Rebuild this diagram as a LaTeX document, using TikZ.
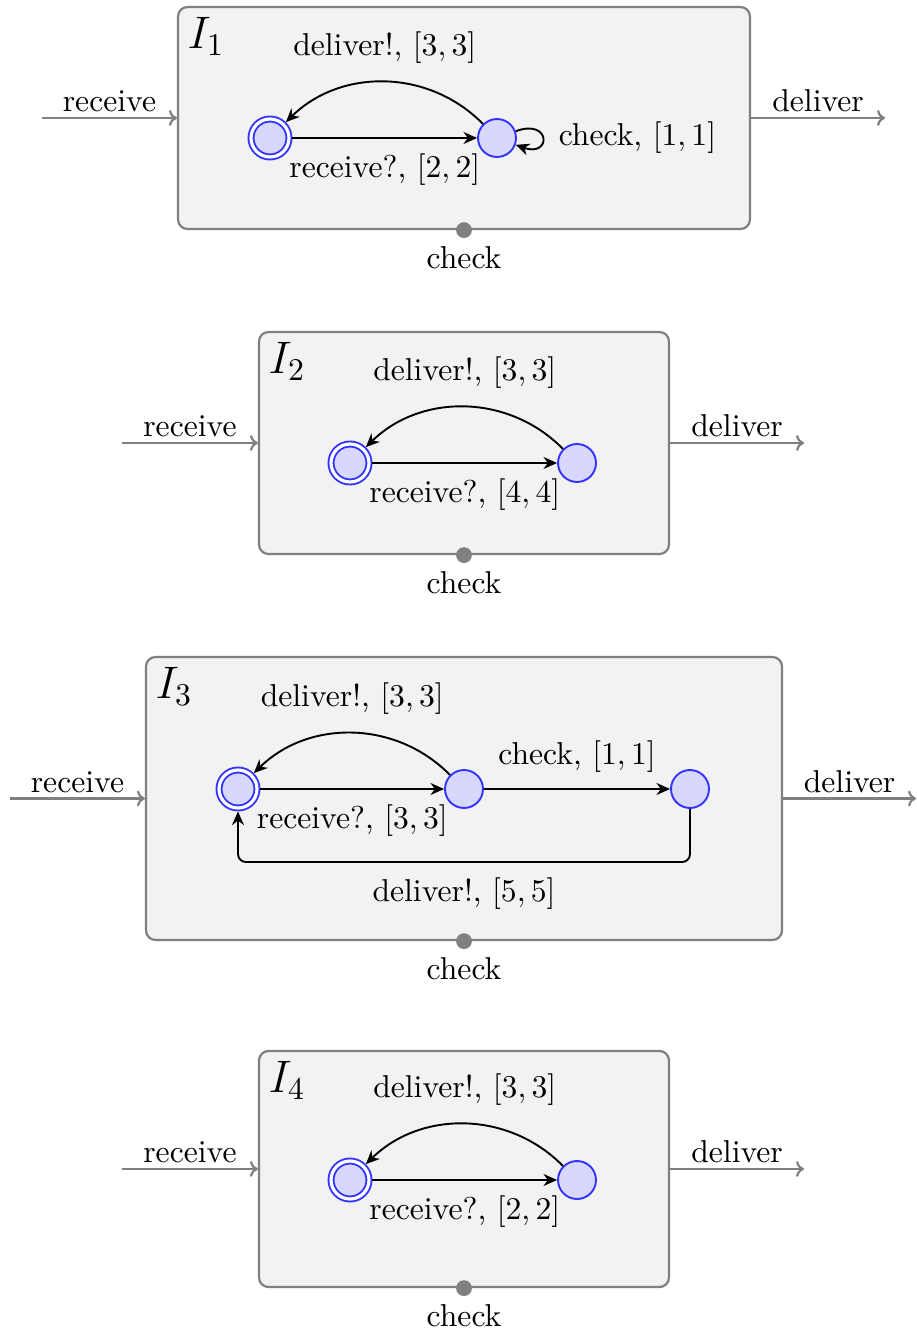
\documentclass[tikz,border=0pt]{standalone}
\usetikzlibrary{arrows.meta,calc,positioning}
\definecolor{stfill}{RGB}{216,216,255}
\definecolor{stline}{RGB}{51,51,255}
\begin{document}
\begin{tikzpicture}[x=0.316pt,y=-0.316pt,
  ibox/.style={draw=gray, line width=0.7pt, fill=gray!10, rounded corners=3pt, inner sep=0pt},
  st/.style={circle, draw=stline, fill=stfill, line width=0.6pt, minimum size=12pt, inner sep=0pt},
  acc/.style={st, double=white, double distance=1pt, outer sep=1.1pt},
  arr/.style={line width=0.6pt, -{Stealth[length=4.3pt,width=3.8pt,inset=1.4pt]}},
  garr/.style={draw=gray, line width=0.7pt, -{To[length=2.5pt,width=5pt]}},
  port/.style={circle, fill=gray, minimum size=5pt, inner sep=0pt},
  plab/.style={inner sep=1.5pt},
  ilabel/.style={anchor=north west, inner sep=0pt, font=\Large}]
\useasboundingbox (0,0) rectangle (916,1332);

% ---------- I1 ----------
\node[ibox, minimum width=180.75pt, minimum height=70.15pt] (b1) at (464,118) {};
\node[ilabel] (t1) at ([shift={(10,11)}]b1.north west) {$I_1$};
\node[acc] (p1a) at (270,138) {};
\node[st] (p1b) at (497,138) {};
\draw[arr] (p1a) -- node[below=1.2pt] (l1a) {receive?, $[2,2]$} (p1b);
\draw[arr] (p1b) to[bend right=45] node[above=2.3pt] (l1b) {deliver!, $[3,3]$} (p1a);
\draw[arr] (p1b) to[out=20,in=-20,looseness=1,min distance=12pt] node[right=1.5pt] (l1c) {check, $[1,1]$} (p1b);
\coordinate (i1) at (42,118);
\coordinate (o1) at (885,118);
\draw[garr] (i1) -- node[above, plab] (r1) {receive} (b1.west);
\draw[garr] (b1.east) -- node[above, plab] (d1) {deliver} (o1);
\node[port] (c1) at (b1.south) {};
\node[below=-1pt of c1] (k1) {check};

% ---------- I2 ----------
\node[ibox, minimum width=129.56pt, minimum height=70.15pt] (b2) at (464,443) {};
\node[ilabel] (t2) at ([shift={(10,11)}]b2.north west) {$I_2$};
\node[acc] (p2a) at (350,463) {};
\node[st] (p2b) at (577,463) {};
\draw[arr] (p2a) -- node[below=1.2pt] (l2a) {receive?, $[4,4]$} (p2b);
\draw[arr] (p2b) to[bend right=45] node[above=2.3pt] (l2b) {deliver!, $[3,3]$} (p2a);
\coordinate (i2) at (122,443);
\coordinate (o2) at (804,443);
\draw[garr] (i2) -- node[above, plab] (r2) {receive} (b2.west);
\draw[garr] (b2.east) -- node[above, plab] (d2) {deliver} (o2);
\node[port] (c2) at (b2.south) {};
\node[below=-1pt of c2] (k2) {check};

% ---------- I3 ----------
\node[ibox, minimum width=200.98pt, minimum height=89.43pt] (b3) at (464,798.5) {};
\node[ilabel] (t3) at ([shift={(10,11)}]b3.north west) {$I_3$};
\node[acc] (p3a) at (238,789) {};
\node[st] (p3b) at (464,789) {};
\node[st] (p3c) at (690,789) {};
\draw[arr] (p3a) -- node[below=1.2pt] (l3a) {receive?, $[3,3]$} (p3b);
\draw[arr] (p3b) to[bend right=45] node[above=2.3pt] (l3b) {deliver!, $[3,3]$} (p3a);
\draw[arr] (p3b) -- node[above=1.7pt] (l3c) {check, $[1,1]$} (p3c);
\coordinate (p3bot) at (464,862);
\draw[arr, rounded corners=2.5pt] (p3c) -- (p3c |- p3bot) -- node[below=1.5pt] (l3d) {deliver!, $[5,5]$} (p3a |- p3bot) -- (p3a);
\coordinate (i3) at (10,798.5);
\coordinate (o3) at (916,798.5);
\draw[garr] (i3) -- node[above, plab] (r3) {receive} (b3.west);
\draw[garr] (b3.east) -- node[above, plab] (d3) {deliver} (o3);
\node[port] (c3) at (b3.south) {};
\node[below=-1pt of c3] (k3) {check};

% ---------- I4 ----------
\node[ibox, minimum width=129.56pt, minimum height=74.58pt] (b4) at (464,1169) {};
\node[ilabel] (t4) at ([shift={(10,11)}]b4.north west) {$I_4$};
\node[acc] (p4a) at (350,1180) {};
\node[st] (p4b) at (577,1180) {};
\draw[arr] (p4a) -- node[below=1.2pt] (l4a) {receive?, $[2,2]$} (p4b);
\draw[arr] (p4b) to[bend right=45] node[above=2.3pt] (l4b) {deliver!, $[3,3]$} (p4a);
\coordinate (i4) at (122,1169);
\coordinate (o4) at (804,1169);
\draw[garr] (i4) -- node[above, plab] (r4) {receive} (b4.west);
\draw[garr] (b4.east) -- node[above, plab] (d4) {deliver} (o4);
\node[port] (c4) at (b4.south) {};
\node[below=-1pt of c4] (k4) {check};
\end{tikzpicture}
\end{document}
